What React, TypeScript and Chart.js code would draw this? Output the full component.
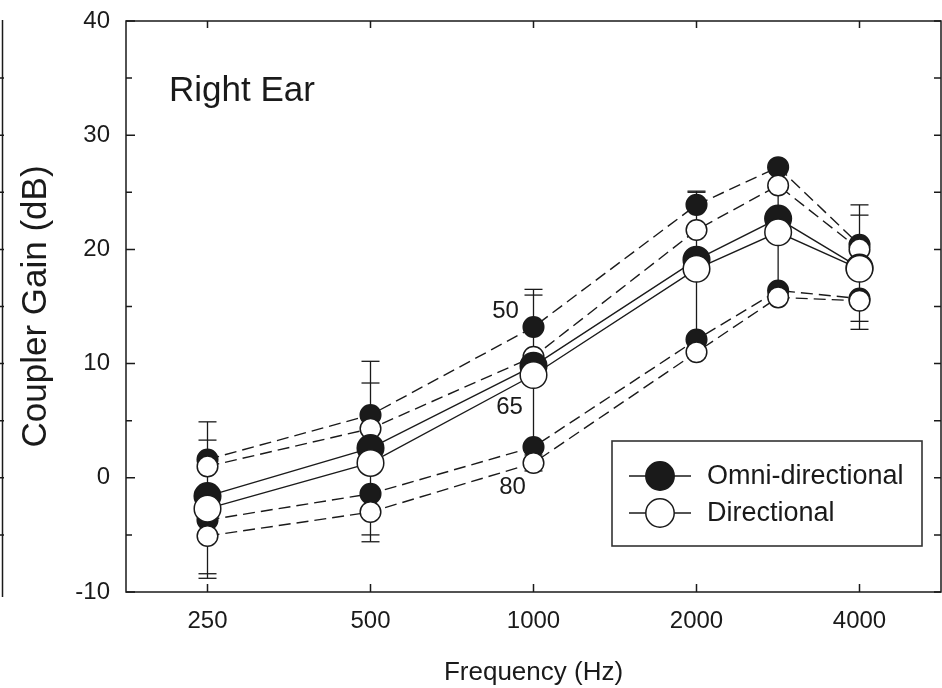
import React, { useEffect, useRef } from 'react';
import { Chart, registerables } from 'chart.js';

Chart.register(...registerables);

// ---------- data ----------
const frequencies = [250, 500, 1000, 2000, 2830, 4000];
const xTickValues = [250, 500, 1000, 2000, 4000];
const yTickValues = [-10, 0, 10, 20, 30, 40];

const omni50 = [1.6, 5.5, 13.2, 23.9, 27.2, 20.4];
const dir50 = [1.0, 4.3, 10.6, 21.7, 25.6, 20.0];
const omni65 = [-1.6, 2.6, 9.8, 19.1, 22.7, 18.4];
const dir65 = [-2.7, 1.3, 9.0, 18.3, 21.5, 18.3];
const omni80 = [-3.7, -1.4, 2.7, 12.1, 16.4, 15.7];
const dir80 = [-5.1, -3.0, 1.3, 11.0, 15.8, 15.5];

// error bars (SD): upward for 50 dB input, downward for 80 dB input
const omni50Sd = [3.3, 4.7, 3.3, 1.2, 0.5, 3.5];
const dir50Sd = [2.3, 4.0, 5.4, 3.3, 1.1, 3.0];
const omni80Sd = [4.7, 3.6, 0.7, 0.5, 0.5, 2.0];
const dir80Sd = [3.7, 2.6, 0.7, 0.5, 0.5, 2.5];

const levelLabels = ['50', '65', '80'];
const levelLabelY = [14.6, 6.2, -0.8];
const levelLabelFreq = 1000;
const levelLabelDx = [-28, -24, -21];

const legendLabels = ['Omni-directional', 'Directional'];
const panelTitle = 'Right Ear';
const xTitle = 'Frequency (Hz)';
const yTitle = 'Coupler Gain (dB)';

// ---------- style ----------
const FONT = '"Liberation Sans", Arial, Helvetica, sans-serif';
const INK = '#1a1a1a';

function makeDs(label: string, data: number[], filled: boolean, big: boolean, dashed: boolean, order: number) {
  const r = big ? 13.3 : 10.3;
  return {
    label,
    data: frequencies.map((f, i) => ({ x: f, y: data[i] })),
    borderColor: INK,
    borderWidth: 1.4,
    borderDash: dashed ? [12, 6] : [],
    pointRadius: r,
    pointHoverRadius: r,
    pointBackgroundColor: filled ? INK : '#ffffff',
    pointBorderColor: INK,
    pointBorderWidth: 1.5,
    fill: false,
    tension: 0,
    order,
  };
}

const decorPlugin = {
  id: 'decor',
  beforeDatasetsDraw(chart: any) {
    const { ctx, scales } = chart;
    const x = scales.x;
    const y = scales.y;
    ctx.save();
    ctx.strokeStyle = INK;
    ctx.lineWidth = 1.3;
    ctx.setLineDash([]);
    frequencies.forEach((f, i) => {
      const px = x.getPixelForValue(f);
      const tops = [omni50[i] + omni50Sd[i], dir50[i] + dir50Sd[i]];
      const bots = [omni80[i] - omni80Sd[i], dir80[i] - dir80Sd[i]];
      const hi = Math.max(...tops);
      const lo = Math.min(...bots);
      ctx.beginPath();
      ctx.moveTo(px, y.getPixelForValue(hi));
      ctx.lineTo(px, y.getPixelForValue(lo));
      ctx.stroke();
      [...tops, ...bots].forEach((v) => {
        const py = y.getPixelForValue(v);
        ctx.beginPath();
        ctx.moveTo(px - 9, py);
        ctx.lineTo(px + 9, py);
        ctx.stroke();
      });
    });
    ctx.restore();
  },
  afterDraw(chart: any) {
    const { ctx, chartArea, scales } = chart;
    const x = scales.x;
    const y = scales.y;
    const { left, right, top, bottom } = chartArea;
    ctx.save();
    ctx.strokeStyle = INK;
    ctx.fillStyle = INK;
    ctx.lineWidth = 1.5;
    ctx.setLineDash([]);

    // frame
    ctx.strokeRect(left, top, right - left, bottom - top);

    // inward ticks
    ctx.beginPath();
    xTickValues.forEach((v) => {
      const px = x.getPixelForValue(v);
      ctx.moveTo(px, bottom);
      ctx.lineTo(px, bottom - 8);
      ctx.moveTo(px, top);
      ctx.lineTo(px, top + 7);
    });
    for (let v = -10; v <= 40; v += 5) {
      const py = y.getPixelForValue(v);
      const len = v % 10 === 0 ? 9 : 6;
      ctx.moveTo(left, py);
      ctx.lineTo(left + len, py);
      ctx.moveTo(right, py);
      ctx.lineTo(right - 7, py);
    }
    ctx.stroke();

    // edge of neighbouring panel at far left
    ctx.beginPath();
    ctx.moveTo(2.5, y.getPixelForValue(40) - 1);
    ctx.lineTo(2.5, y.getPixelForValue(-10) + 5);
    for (let v = -5; v <= 35; v += 5) {
      const py = y.getPixelForValue(v);
      ctx.moveTo(0, py);
      ctx.lineTo(4, py);
    }
    ctx.stroke();

    // panel title
    ctx.font = `35px ${FONT}`;
    ctx.textAlign = 'left';
    ctx.textBaseline = 'alphabetic';
    ctx.fillText(panelTitle, left + 43, top + 80);

    // level labels
    ctx.font = `24px ${FONT}`;
    ctx.textAlign = 'center';
    ctx.textBaseline = 'middle';
    levelLabels.forEach((t, i) => {
      const px = x.getPixelForValue(levelLabelFreq) + levelLabelDx[i];
      const py = y.getPixelForValue(levelLabelY[i]);
      ctx.fillText(t, px, py);
    });

    // legend
    const bx = right - 329;
    const by = bottom - 151;
    const bw = 310;
    const bh = 105;
    ctx.fillStyle = '#ffffff';
    ctx.fillRect(bx, by, bw, bh);
    ctx.strokeStyle = '#333';
    ctx.lineWidth = 1.6;
    ctx.strokeRect(bx, by, bw, bh);
    ctx.strokeStyle = INK;
    legendLabels.forEach((t, i) => {
      const cy = by + 35 + i * 37;
      ctx.lineWidth = 1.5;
      ctx.beginPath();
      ctx.moveTo(bx + 17, cy);
      ctx.lineTo(bx + 79, cy);
      ctx.stroke();
      ctx.beginPath();
      ctx.arc(bx + 48, cy, 14.2, 0, Math.PI * 2);
      ctx.fillStyle = i === 0 ? INK : '#ffffff';
      ctx.fill();
      ctx.stroke();
      ctx.fillStyle = INK;
      ctx.font = `27px ${FONT}`;
      ctx.textAlign = 'left';
      ctx.textBaseline = 'middle';
      ctx.fillText(t, bx + 95, cy + 1);
    });
    ctx.restore();
  },
};

export default function App() {
  const ref = useRef<HTMLCanvasElement>(null);
  useEffect(() => {
    if (!ref.current) return;
    const chart = new Chart(ref.current, {
      type: 'line',
      data: {
        datasets: [
          makeDs('Directional 65', dir65, false, true, false, 0),
          makeDs('Omni-directional 65', omni65, true, true, false, 1),
          makeDs('Directional 50', dir50, false, false, true, 2),
          makeDs('Directional 80', dir80, false, false, true, 3),
          makeDs('Omni-directional 50', omni50, true, false, true, 4),
          makeDs('Omni-directional 80', omni80, true, false, true, 5),
        ] as any,
      },
      options: {
        responsive: false,
        animation: false,
        events: [],
        layout: { autoPadding: false, padding: { top: 21, right: 1, bottom: 0, left: 0 } },
        plugins: { legend: { display: false }, tooltip: { enabled: false } },
        scales: {
          x: {
            type: 'logarithmic',
            min: 250 / Math.SQRT2,
            max: 4000 * Math.SQRT2,
            afterBuildTicks: (s: any) => {
              s.ticks = xTickValues.map((v) => ({ value: v }));
            },
            afterFit: (s: any) => {
              s.height = 96;
              s.paddingLeft = 0;
              s.paddingRight = 0;
            },
            grid: { display: false, drawTicks: true, tickLength: 15 },
            border: { display: false },
            ticks: {
              autoSkip: false,
              maxRotation: 0,
              minRotation: 0,
              padding: 0,
              color: INK,
              font: { family: FONT, size: 24 },
              callback: (v: any) => String(v),
            },
            title: {
              display: true,
              text: xTitle,
              color: INK,
              font: { family: FONT, size: 26 },
              padding: { top: 0, bottom: 0 },
            },
          },
          y: {
            type: 'linear',
            min: -10,
            max: 40,
            afterBuildTicks: (s: any) => {
              s.ticks = yTickValues.map((v) => ({ value: v }));
            },
            afterFit: (s: any) => {
              s.width = 126;
              s.paddingTop = 0;
              s.paddingBottom = 0;
            },
            grid: { display: false, drawTicks: true, tickLength: 16 },
            border: { display: false },
            ticks: {
              padding: 0,
              color: INK,
              font: { family: FONT, size: 24 },
            },
            title: {
              display: true,
              text: yTitle,
              color: INK,
              font: { family: FONT, size: 35 },
              padding: { top: 15, bottom: 0 },
            },
          },
        },
      } as any,
      plugins: [decorPlugin],
    });
    return () => chart.destroy();
  }, []);
  return (
    <div style={{ position: 'fixed', left: 0, top: 0, width: 942, height: 688, background: '#ffffff' }}>
      <canvas ref={ref} width={942} height={688} style={{ display: 'block', width: 942, height: 688 }} />
    </div>
  );
}
